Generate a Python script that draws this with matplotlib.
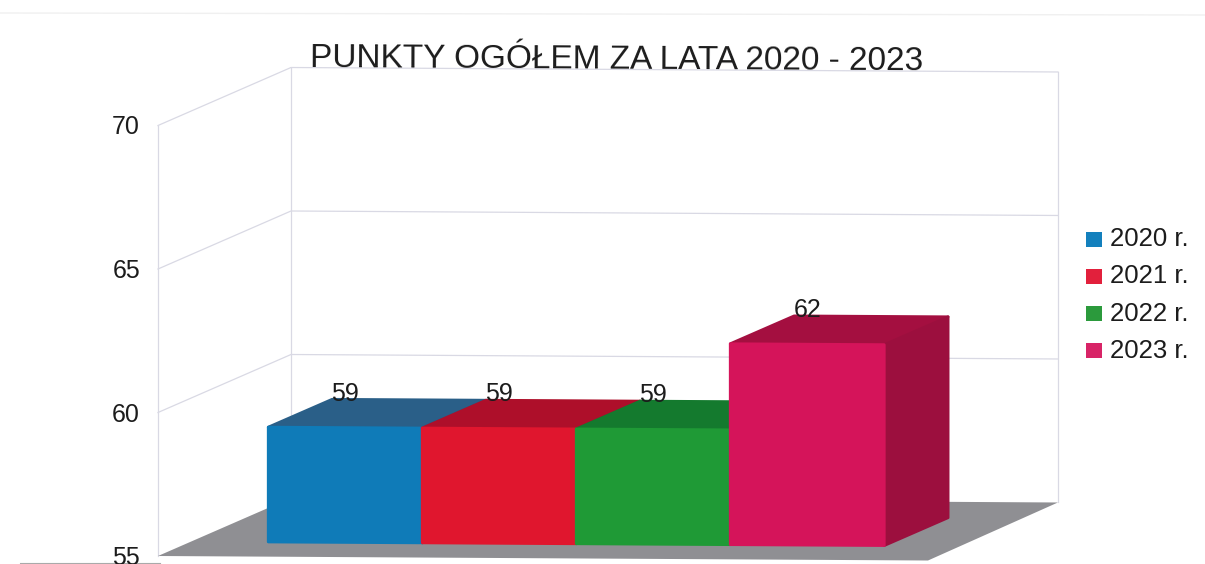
import matplotlib
matplotlib.use("Agg")
import matplotlib.pyplot as plt
from matplotlib.patches import Polygon

plt.rcParams['font.family'] = ['Liberation Sans', 'DejaVu Sans']

# data
years = ["2020 r.", "2021 r.", "2022 r.", "2023 r."]
points = [59, 59, 59, 62]
y_ticks = [55, 60, 65, 70]
title = "PUNKTY OGÓŁEM ZA LATA 2020 - 2023"

# colours: front, top, side
front_cols = ["#0f7bb8", "#e0162e", "#1f9a36", "#d5145a"]
top_cols = ["#2a5f88", "#ae0f2a", "#147a2e", "#a40f40"]
side_cols = ["#23597f", "#a50e28", "#12702a", "#9c0f3e"]
legend_cols = ["#1380bd", "#e2203c", "#2b9a3c", "#d82467"]

W, H = 1205, 564
base = 55
bar_w = 0.2
start = 0.1
d_front, d_back = 0.25, 0.73
text_col = "#1c1c1c"


def proj(u, v, d):
    # u along the floor, v value, d depth; returns picture position
    x = 158 + 770 * u + 133 * d
    y = 556 + 4.5 * u - 58 * d - (v - base) * 28.7
    return x, y


fig = plt.figure(figsize=(W / 100, H / 100), dpi=100)
ax = fig.add_axes([0, 0, 1, 1])
ax.set_xlim(0, W)
ax.set_ylim(H, 0)
ax.axis("off")

wall = "#d9d9e4"

# floor
ax.add_patch(Polygon([proj(0, base, 0), proj(1, base, 0), proj(0.996, base, 1), proj(0, base, 1)],
                     fc="#8f8f93", ec="none", zorder=1))

# walls and grid
for t in y_ticks:
    xa, ya = proj(0, t, 0)
    xb, yb = proj(0, t, 1)
    xc, yc = proj(0.996, t, 1)
    if t != base:
        ax.plot([xa, xb, xc], [ya, yb, yc], color=wall, lw=0.9, zorder=0.5)
    ax.text(xa - 18, ya + 2, str(t), ha="right", va="center", fontsize=18, color=text_col)
for u, d in [(0, 0), (0, 1), (0.996, 1)]:
    ax.plot(*zip(proj(u, base, d), proj(u, y_ticks[-1], d)), color=wall, lw=0.9, zorder=0.5)

# bars, left to right so the next one covers the side of the last
for i, v in enumerate(points):
    u0 = start + i * bar_w
    u1 = u0 + bar_w
    top = [proj(u0, v, d_front), proj(u1, v, d_front), proj(u1, v, d_back), proj(u0, v, d_back)]
    side = [proj(u1, base, d_front), proj(u1, v, d_front), proj(u1, v, d_back), proj(u1, base, d_back)]
    front = [proj(u0, base, d_front), proj(u1, base, d_front), proj(u1, v, d_front), proj(u0, v, d_front)]
    for pts, col in [(top, top_cols[i]), (side, side_cols[i]), (front, front_cols[i])]:
        ax.add_patch(Polygon(pts, fc=col, ec=col, lw=2, joinstyle="round", zorder=2 + i))
    lx, ly = proj(u0 + bar_w / 2, v, d_front)
    ax.text(lx, ly - 34, str(v), ha="center", va="center", fontsize=18, color=text_col, zorder=10)

ax.text(617, 69, title, ha="center", va="baseline", rotation=-0.3, rotation_mode="anchor",
        fontsize=24, color=text_col, zorder=10)

# legend
for i, (name, col) in enumerate(zip(years, legend_cols)):
    y = 239 + i * 37.3
    ax.add_patch(Polygon([(1086, y - 7.5), (1102, y - 7.5), (1102, y + 7.5), (1086, y + 7.5)],
                         fc=col, ec="none", zorder=3))
    ax.text(1110, y, name, ha="left", va="center", fontsize=18.5, color=text_col)

# scan edges
ax.plot([0, W], [13, 15], color="#f0f0f0", lw=1, zorder=0)
ax.plot([20, 160], [563, 563], color="#aaaaaa", lw=0.8, zorder=0)

fig.savefig("out.png", dpi=100)
